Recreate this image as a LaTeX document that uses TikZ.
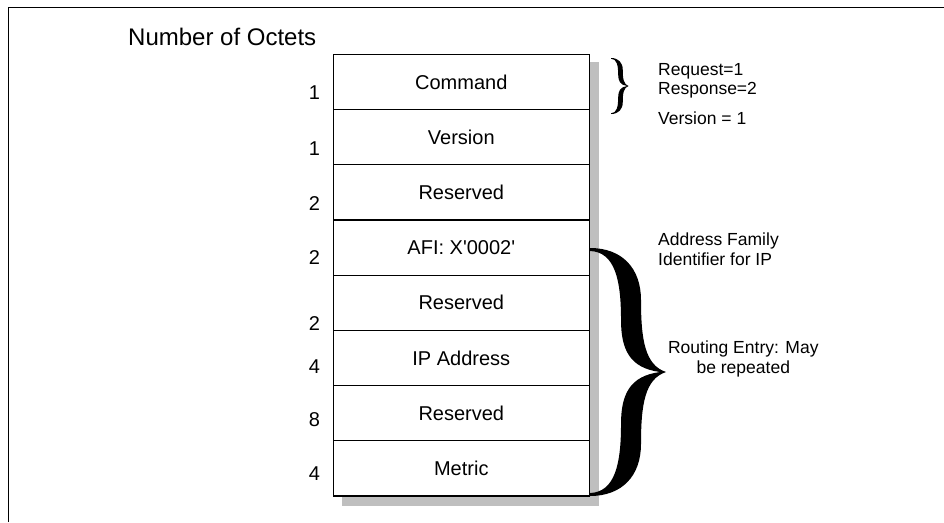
\documentclass[tikz,border=0pt]{standalone}
\usepackage{fontspec}
\setmainfont{Liberation Sans}
\usetikzlibrary{positioning}

\begin{document}
\begin{tikzpicture}[x=1pt, y=-1pt,
    cell/.style={draw, line width=1.2pt, fill=white, minimum width=256pt,
      minimum height=55.2pt, inner sep=0pt, outer sep=0pt,
      font=\fontsize{20}{24}\selectfont},
    num/.style={anchor=base, inner sep=0pt, font=\fontsize{20}{24}\selectfont},
    note/.style={anchor=base west, inner sep=0pt, font=\fontsize{17.5}{20}\selectfont},
    curly/.pic={
      \fill (0,0) .. controls (0.421,0) and (0.671,0.081) .. (0.671,0.210)
        .. controls (0.671,0.371) and (0.724,0.472) .. (1,0.5)
        .. controls (0.724,0.528) and (0.671,0.629) .. (0.671,0.790)
        .. controls (0.671,0.919) and (0.421,1) .. (0,1) -- (0,0.988)
        .. controls (0.329,0.984) and (0.408,0.871) .. (0.408,0.710)
        .. controls (0.408,0.589) and (0.526,0.516) .. (0.921,0.5)
        .. controls (0.526,0.484) and (0.408,0.411) .. (0.408,0.290)
        .. controls (0.408,0.129) and (0.329,0.016) .. (0,0.012) -- cycle;
    }
  ]
    \useasboundingbox (0,0) rectangle (944,522);
    \draw[line width=1pt] (8,522) |- (944,7.3);

    \node[anchor=west, inner sep=0pt, font=\fontsize{24}{28}\selectfont] (title) at (128,37) {Number of Octets};

    \fill[black!25] (342,62) rectangle (599,506);
    \node[cell] (command) at (461.3,81.9) {Command};
    \node[cell, below=0pt of command] (version) {Version};
    \node[cell, below=0pt of version] (res1) {Reserved};
    \node[cell, below=0pt of res1] (afi) {AFI: X\textquotesingle0002\textquotesingle};
    \node[cell, below=0pt of afi] (res2) {Reserved};
    \node[cell, below=0pt of res2] (ipaddr) {IP Address};
    \node[cell, below=0pt of ipaddr] (res3) {Reserved};
    \node[cell, below=0pt of res3] (metric) {Metric};

    \foreach \y/\v [count=\i] in {99.5/1, 155/1, 210/2, 264.5/2, 330.5/2, 373/4, 426/8, 480.5/4}
      \node[num] (n\i) at (314.5,\y) {\v};

    \path (611,58) pic[xscale=17.5, yscale=56] {curly};
    \path (590,248) pic[xscale=76, yscale=248] {curly};

    \node[note] (req) at (658,75) {Request=1};
    \node[note] (resp) at (658,94) {Response=2};
    \node[note] (ver) at (658,124) {Version = 1};
    \node[note] (fam) at (658,245.6) {Address Family};
    \node[note] (ident) at (658,265.6) {Identifier for IP};
    \node[note, anchor=base] (rout) at (743.3,353.5) {Routing Entry: May};
    \node[note, anchor=base] (rep) at (743.3,373.5) {be repeated};
  \end{tikzpicture}
\end{document}
